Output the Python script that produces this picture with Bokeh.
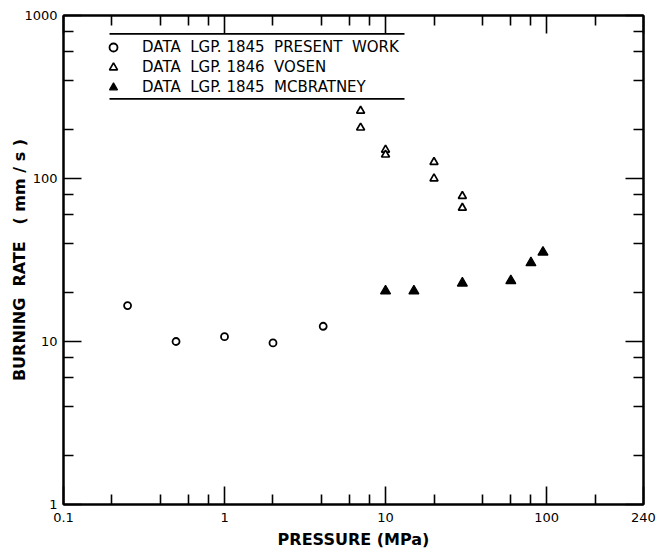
from bokeh.plotting import figure
from bokeh.models import (LogAxis, FixedTicker, Range1d, Legend, LegendItem,
                          BoxAnnotation)
from bokeh.embed import file_html
from bokeh.resources import INLINE

# ---- data ----
present_p = [0.25, 0.5, 1.0, 2.0, 4.1]
present_r = [16.6, 10.0, 10.7, 9.8, 12.4]

vosen_p = [7, 7, 10, 10, 20, 20, 30, 30]
vosen_r = [260, 205, 150, 140, 126, 100, 78, 66]

mcb_p = [10, 15, 30, 60, 80, 95]
mcb_r = [20.4, 20.4, 22.8, 23.6, 30.4, 35.3]

legend_labels = ["DATA  LGP. 1845  PRESENT  WORK",
                 "DATA  LGP. 1846  VOSEN",
                 "DATA  LGP. 1845  MCBRATNEY"]

x_tick_values = [0.1, 1, 10, 100, 400]
x_tick_labels = ["0.1", "1", "10", "100", "240"]
x_minor_ticks = [0.2, 0.4, 0.6, 0.8, 2, 4, 6, 8, 20, 40, 60, 80, 200]
y_tick_values = [1, 10, 100, 1000]
y_tick_labels = ["1", "10", "100", "1000"]
y_minor_ticks = [2, 4, 6, 8, 20, 40, 60, 80, 200, 400, 600, 800]

x_title = "PRESSURE (MPa)"
y_title = "BURNING\u00a0\u00a0RATE\u00a0\u00a0\u00a0(\u00a0mm\u00a0/\u00a0s\u00a0)"

FONT = "DejaVu Sans"

p = figure(width=668, height=560, x_axis_type="log", y_axis_type="log",
           x_range=Range1d(x_tick_values[0], x_tick_values[-1]),
           y_range=Range1d(y_tick_values[0], y_tick_values[-1]),
           output_backend="svg", toolbar_location=None,
           min_border_left=63, min_border_right=25, min_border_top=15,
           min_border_bottom=56)
p.grid.visible = False
p.outline_line_color = "black"
p.outline_line_width = 2
p.background_fill_color = "white"
p.border_fill_color = "white"

x_ticker = FixedTicker(ticks=x_tick_values, minor_ticks=x_minor_ticks)
y_ticker = FixedTicker(ticks=y_tick_values, minor_ticks=y_minor_ticks)

p.add_layout(LogAxis(), "above")
p.add_layout(LogAxis(), "right")

for ax in p.xaxis:
    ax.ticker = x_ticker
for ax in p.yaxis:
    ax.ticker = y_ticker

for ax in p.axis:
    ax.axis_line_width = 2
    ax.axis_line_color = "black"
    ax.major_tick_in = 18
    ax.major_tick_out = 0
    ax.minor_tick_in = 10
    ax.minor_tick_out = 0
    ax.major_tick_line_width = 1.6
    ax.minor_tick_line_width = 1.6
    ax.major_tick_line_color = "black"
    ax.minor_tick_line_color = "black"
    ax.major_label_text_font = FONT
    ax.major_label_text_font_size = "13px"
    ax.major_label_text_color = "black"
    ax.axis_label_text_font = FONT
    ax.axis_label_text_font_style = "bold"
    ax.axis_label_text_font_size = "16px"
    ax.axis_label_text_color = "black"

# top & right: ticks only
for ax in (p.above[0], p.right[0]):
    ax.major_label_text_font_size = "1px"
    ax.major_label_text_alpha = 0
    ax.major_label_standoff = 0

xb = p.below[0]
xb.major_label_overrides = {v: s for v, s in zip(x_tick_values, x_tick_labels)}
xb.major_label_standoff = 8
xb.axis_label = x_title
xb.axis_label_standoff = 5

yl = p.left[0]
yl.major_label_overrides = {v: s for v, s in zip(y_tick_values, y_tick_labels)}
yl.major_label_standoff = 6
yl.major_label_orientation = "horizontal"
yl.axis_label = y_title
yl.axis_label_standoff = -8

r1 = p.scatter(present_p, present_r, marker="circle", size=7,
               fill_color="white", line_color="black", line_width=1.8)
r2 = p.scatter(vosen_p, vosen_r, marker="triangle", size=8,
               fill_color="white", line_color="black", line_width=1.7)
r3 = p.scatter(mcb_p, mcb_r, marker="triangle", size=10,
               fill_color="black", line_color="black", line_width=1.2)

legend = Legend(items=[LegendItem(label=legend_labels[0], renderers=[r1]),
                       LegendItem(label=legend_labels[1], renderers=[r2]),
                       LegendItem(label=legend_labels[2], renderers=[r3])],
                location=(40, 407), padding=0, margin=0, spacing=0,
                glyph_width=20, glyph_height=20, label_height=20,
                label_standoff=19,
                label_text_font=FONT, label_text_font_size="15px",
                label_text_color="black",
                border_line_color=None, background_fill_alpha=0)
p.add_layout(legend, "center")

# rules above and below the legend
for top in (32.5, 97.5):
    p.add_layout(BoxAnnotation(left=109, right=404, top=top, bottom=top + 1.8,
                               left_units="canvas", right_units="canvas",
                               top_units="canvas", bottom_units="canvas",
                               fill_color="black", fill_alpha=1,
                               line_color=None))

open("out.html", "w").write(file_html(p, INLINE))
